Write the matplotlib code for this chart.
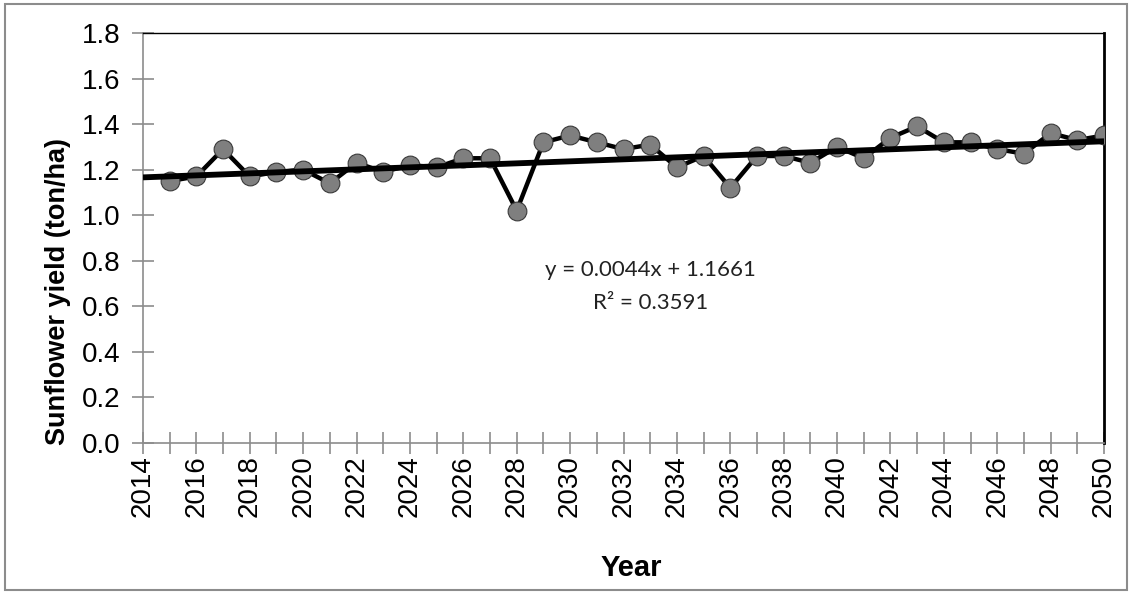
import numpy as np
import matplotlib
matplotlib.use("Agg")
import matplotlib.pyplot as plt
from matplotlib.patches import Rectangle

# sunflower yield projection
years = list(range(2015, 2051))
yields = [1.15, 1.17, 1.29, 1.17, 1.19, 1.20, 1.14, 1.23, 1.19, 1.22,
          1.21, 1.25, 1.25, 1.02, 1.32, 1.35, 1.32, 1.29, 1.31, 1.21,
          1.26, 1.12, 1.26, 1.26, 1.23, 1.30, 1.25, 1.34, 1.39, 1.32,
          1.32, 1.29, 1.27, 1.36, 1.33, 1.35]

# linear trend as printed on the chart (x counted from 2014)
slope = 0.0044
intercept = 1.1661
r_squared = 0.3591
trend_years = [2014, 2050]

y_ticks = [0.0, 0.2, 0.4, 0.6, 0.8, 1.0, 1.2, 1.4, 1.6, 1.8]
x_major = list(range(2014, 2051, 2))
x_minor = list(range(2015, 2050, 2))


def main():
    plt.rcParams['font.family'] = ['Liberation Sans', 'DejaVu Sans']
    fig = plt.figure(figsize=(11.32, 5.92), dpi=100)
    fig.patches.append(Rectangle((0.004, 0.004), 0.992, 0.989,
                                 transform=fig.transFigure, fill=False,
                                 edgecolor="#8c8c8c", linewidth=1.5))
    ax = fig.add_axes([0.1263, 0.2517, 0.8490, 0.6926])

    ax.plot(years, yields, color="black", linewidth=3.2, marker="o",
            markersize=13.5, markerfacecolor="#7f7f7f",
            markeredgecolor="#3a3a3a", markeredgewidth=0.8, zorder=3)

    tx = np.array(trend_years)
    ax.plot(tx, slope * (tx - 2014) + intercept, color="black",
            linewidth=4.2, zorder=4, solid_capstyle="butt")

    eq = f"y = {slope}x + {intercept}\nR² = {r_squared}"
    ax.text(0.528, 0.382, eq, transform=ax.transAxes, ha="center",
            va="center", fontsize=16, family=["Lato", "DejaVu Sans"],
            color="#222222", linespacing=1.85)

    ax.set_xlim(2014, 2050)
    ax.set_ylim(0, 1.8)
    ax.set_yticks(y_ticks)
    ax.set_yticklabels([f"{v:.1f}" for v in y_ticks])
    ax.set_xticks(x_major)
    ax.set_xticks(x_minor, minor=True)
    ax.set_xticklabels([str(v) for v in x_major], rotation=90)

    ax.tick_params(axis="both", which="both", direction="inout",
                   length=16, width=1.2, color="#8c8c8c", labelsize=20)
    ax.tick_params(axis="x", pad=1)
    ax.tick_params(axis="y", pad=8)

    ax.spines["left"].set_color("#8c8c8c")
    ax.spines["bottom"].set_color("#8c8c8c")
    ax.spines["left"].set_linewidth(1.2)
    ax.spines["bottom"].set_linewidth(1.2)
    ax.spines["top"].set_color("black")
    ax.spines["top"].set_linewidth(1.0)
    ax.spines["right"].set_color("black")
    ax.spines["right"].set_linewidth(2.0)

    ax.set_ylabel("Sunflower yield (ton/ha)", fontsize=19.5,
                  fontweight="bold")
    ax.yaxis.set_label_coords(-0.075, 0.37)
    ax.set_xlabel("Year", fontsize=21, fontweight="bold")
    ax.xaxis.set_label_coords(0.508, -0.27)

    fig.savefig("out.png", dpi=100)


if __name__ == "__main__":
    main()
